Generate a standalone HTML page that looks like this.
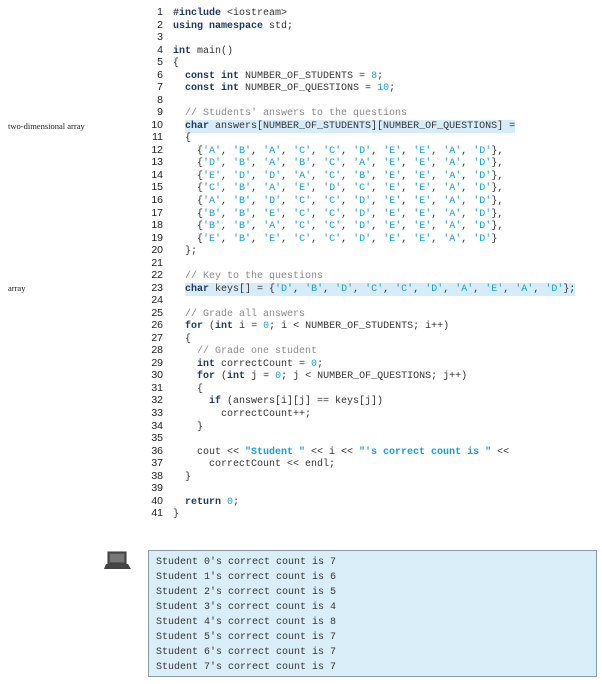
<!DOCTYPE html>
<html><head><meta charset="utf-8"><style>
body{margin:0;width:602px;height:684px;background:#fff;position:relative;overflow:hidden;font-family:"Liberation Mono",monospace;}
.ln{position:absolute;left:130px;width:33px;text-align:right;font-family:"Liberation Sans",sans-serif;font-size:10.5px;color:#222;}
.c{position:absolute;left:173px;font-size:10px;color:#333;white-space:pre;line-height:12.53px;}
.k{color:#1d3a66;font-weight:bold}
.l{color:#19a0d8}
.s{color:#19a0d8;font-weight:bold}
.cm{color:#8a8a8a}
.hl{background:#d6ecf8;padding:1px 0}
.side{position:absolute;left:8px;font-family:"Liberation Serif",serif;font-size:8.5px;color:#222}
.out{position:absolute;left:148px;top:550px;width:449px;height:127px;background:#daeef9;border:1px solid #8a9aa5;box-sizing:border-box;}
.out div{position:absolute;left:7px;font-size:10px;color:#333;white-space:pre}
</style></head><body>
<div class="side" style="top:121px">two-dimensional array</div>
<div class="side" style="top:283px">array</div>
<div class="c" style="top:8px"><span class="k">#include</span> &lt;iostream&gt;
<span class="k">using namespace</span> std;

<span class="k">int</span> main()
{
  <span class="k">const int</span> NUMBER_OF_STUDENTS = <span class="l">8</span>;
  <span class="k">const int</span> NUMBER_OF_QUESTIONS = <span class="l">10</span>;

  <span class="cm">// Students' answers to the questions</span>
  <span class="hl"><span class="k">char</span> answers[NUMBER_OF_STUDENTS][NUMBER_OF_QUESTIONS] =</span>
  {
    {<span class="l">'A'</span>, <span class="l">'B'</span>, <span class="l">'A'</span>, <span class="l">'C'</span>, <span class="l">'C'</span>, <span class="l">'D'</span>, <span class="l">'E'</span>, <span class="l">'E'</span>, <span class="l">'A'</span>, <span class="l">'D'</span>},
    {<span class="l">'D'</span>, <span class="l">'B'</span>, <span class="l">'A'</span>, <span class="l">'B'</span>, <span class="l">'C'</span>, <span class="l">'A'</span>, <span class="l">'E'</span>, <span class="l">'E'</span>, <span class="l">'A'</span>, <span class="l">'D'</span>},
    {<span class="l">'E'</span>, <span class="l">'D'</span>, <span class="l">'D'</span>, <span class="l">'A'</span>, <span class="l">'C'</span>, <span class="l">'B'</span>, <span class="l">'E'</span>, <span class="l">'E'</span>, <span class="l">'A'</span>, <span class="l">'D'</span>},
    {<span class="l">'C'</span>, <span class="l">'B'</span>, <span class="l">'A'</span>, <span class="l">'E'</span>, <span class="l">'D'</span>, <span class="l">'C'</span>, <span class="l">'E'</span>, <span class="l">'E'</span>, <span class="l">'A'</span>, <span class="l">'D'</span>},
    {<span class="l">'A'</span>, <span class="l">'B'</span>, <span class="l">'D'</span>, <span class="l">'C'</span>, <span class="l">'C'</span>, <span class="l">'D'</span>, <span class="l">'E'</span>, <span class="l">'E'</span>, <span class="l">'A'</span>, <span class="l">'D'</span>},
    {<span class="l">'B'</span>, <span class="l">'B'</span>, <span class="l">'E'</span>, <span class="l">'C'</span>, <span class="l">'C'</span>, <span class="l">'D'</span>, <span class="l">'E'</span>, <span class="l">'E'</span>, <span class="l">'A'</span>, <span class="l">'D'</span>},
    {<span class="l">'B'</span>, <span class="l">'B'</span>, <span class="l">'A'</span>, <span class="l">'C'</span>, <span class="l">'C'</span>, <span class="l">'D'</span>, <span class="l">'E'</span>, <span class="l">'E'</span>, <span class="l">'A'</span>, <span class="l">'D'</span>},
    {<span class="l">'E'</span>, <span class="l">'B'</span>, <span class="l">'E'</span>, <span class="l">'C'</span>, <span class="l">'C'</span>, <span class="l">'D'</span>, <span class="l">'E'</span>, <span class="l">'E'</span>, <span class="l">'A'</span>, <span class="l">'D'</span>}
  };

  <span class="cm">// Key to the questions</span>
  <span class="hl"><span class="k">char</span> keys[] = {<span class="l">'D'</span>, <span class="l">'B'</span>, <span class="l">'D'</span>, <span class="l">'C'</span>, <span class="l">'C'</span>, <span class="l">'D'</span>, <span class="l">'A'</span>, <span class="l">'E'</span>, <span class="l">'A'</span>, <span class="l">'D'</span>};</span>

  <span class="cm">// Grade all answers</span>
  <span class="k">for</span> (<span class="k">int</span> i = <span class="l">0</span>; i &lt; NUMBER_OF_STUDENTS; i++)
  {
    <span class="cm">// Grade one student</span>
    <span class="k">int</span> correctCount = <span class="l">0</span>;
    <span class="k">for</span> (<span class="k">int</span> j = <span class="l">0</span>; j &lt; NUMBER_OF_QUESTIONS; j++)
    {
      <span class="k">if</span> (answers[i][j] == keys[j])
        correctCount++;
    }

    cout &lt;&lt; <span class="s">"Student "</span> &lt;&lt; i &lt;&lt; <span class="s">"'s correct count is "</span> &lt;&lt;
      correctCount &lt;&lt; endl;
  }

  <span class="k">return</span> <span class="l">0</span>;
}</div>
<svg style="position:absolute;left:104px;top:551px" width="28" height="20">
<rect x="4" y="1" width="18" height="12" fill="#555" stroke="#333"/>
<rect x="6" y="3" width="14" height="8" fill="#777"/>
<polygon points="2,13 24,13 27,18 0,18" fill="#444"/>
</svg>
<div class="out">
<div style="top:6px">Student 0's correct count is 7</div>
<div style="top:21px">Student 1's correct count is 6</div>
<div style="top:36px">Student 2's correct count is 5</div>
<div style="top:51px">Student 3's correct count is 4</div>
<div style="top:66px">Student 4's correct count is 8</div>
<div style="top:81px">Student 5's correct count is 7</div>
<div style="top:96px">Student 6's correct count is 7</div>
<div style="top:111px">Student 7's correct count is 7</div>
</div>
<div class="ln" style="top:6px;line-height:12.53px">1<br>2<br>3<br>4<br>5<br>6<br>7<br>8<br>9<br>10<br>11<br>12<br>13<br>14<br>15<br>16<br>17<br>18<br>19<br>20<br>21<br>22<br>23<br>24<br>25<br>26<br>27<br>28<br>29<br>30<br>31<br>32<br>33<br>34<br>35<br>36<br>37<br>38<br>39<br>40<br>41</div>
</body></html>
